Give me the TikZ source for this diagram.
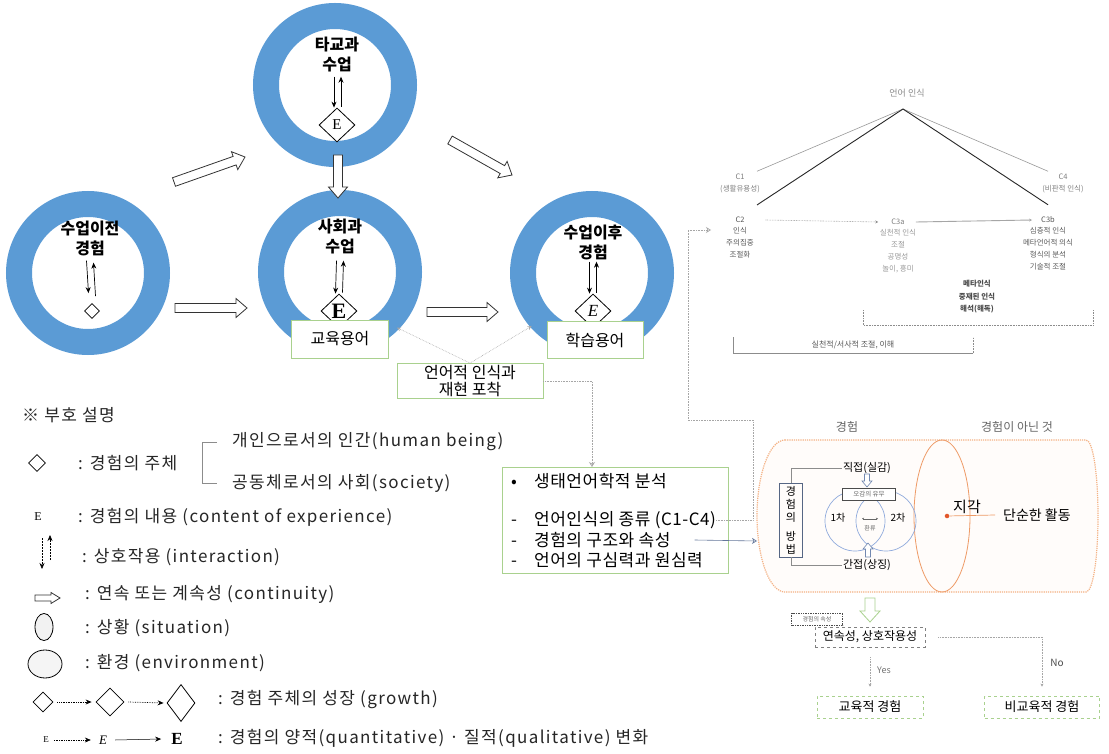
\documentclass[tikz,border=0pt]{standalone}
\usepackage{fontspec}
\setmainfont{Noto Sans CJK KR}
\newfontfamily\serifE{Liberation Serif}
\newfontfamily\legfont[LetterSpace=8]{Noto Sans CJK KR}
\newfontfamily\ecofont[LetterSpace=3]{Noto Sans CJK KR}
\usetikzlibrary{shapes.geometric,arrows.meta,calc}

\definecolor{ringblue}{HTML}{5B9BD5}
\definecolor{boxgreen}{HTML}{A9D18E}
\definecolor{canorange}{HTML}{F4B183}
\definecolor{ellorange}{HTML}{EE9A66}
\definecolor{venn}{HTML}{8FAADC}
\definecolor{dotred}{HTML}{E2572B}

% hollow block arrow between two named coordinates:
% #1 style, #2 half shaft width, #3 half head width, #4 head length, #5 from, #6 to
\newcommand\blockarrow[6]{%
  \coordinate (ba-h) at ($(#6)!#4!(#5)$);
  \draw[#1] ($(#5)!#2!90:(#6)$) -- ($(ba-h)!#2!-90:(#5)$) -- ($(ba-h)!#3!-90:(#5)$)
    -- (#6) -- ($(ba-h)!#3!90:(#5)$) -- ($(ba-h)!#2!90:(#5)$) -- ($(#5)!#2!-90:(#6)$) -- cycle;}

\begin{document}
\begin{tikzpicture}[x=1pt,y=-1pt,
  ring/.style={circle, draw=ringblue, line width=26pt, minimum size=138pt, inner sep=0pt},
  ringlabel/.style={font=\bfseries\fontsize{16}{20}\selectfont, align=center, inner sep=1pt},
  subject/.style={diamond, draw, line width=0.8pt, inner sep=0pt, minimum width=36pt, minimum height=34pt, fill=white},
  interact/.style={-{Stealth[length=6pt,width=5pt]}, line width=0.7pt},
  termbox/.style={draw=boxgreen, fill=white, line width=0.8pt, font=\fontsize{16}{17}\selectfont, align=center, inner sep=1pt},
  blockarr/.style={draw=black!80, fill=white, line width=0.8pt},
  linkline/.style={draw=black!35, line width=0.6pt, densely dotted},
  leg/.style={font=\legfont\fontsize{17}{19}\selectfont, anchor=west, inner sep=0pt, text=black!85},
  growarr/.style={densely dotted, line width=0.7pt, -{Stealth[length=6pt,width=5pt]}},
  ecotext/.style={font=\ecofont\fontsize{17}{19}\selectfont, anchor=west, inner sep=0pt},
  ctext/.style={font=\fontsize{7.5}{12}\selectfont, align=center, text=black!50, inner sep=1pt},
  chead/.style={font=\fontsize{7.5}{9}\selectfont, text=black!50, inner sep=1pt},
  bracketline/.style={draw=black!45, line width=0.6pt}
]
\fill[white] (0,0) rectangle (1109,754);
\useasboundingbox (0,0) rectangle (1109,754);

% ---------- environments (rings) ----------
\node[ring] (ringA) at (88,273) {};
\node[ring] (ringB) at (335,85) {};
\node[ring] (ringC) at (340,272) {};
\node[ring] (ringD) at (592,273) {};

\node[ringlabel] (labA) at (90,238) {수업이전\\경험};
\node[ringlabel] (labB) at (337,55) {타교과\\수업};
\node[ringlabel] (labC) at (340,237) {사회과\\수업};
\node[ringlabel] (labD) at (593,242) {수업이후\\경험};

% subjects of experience
\node[diamond, draw, line width=0.8pt, inner sep=0pt, minimum width=15pt, minimum height=15pt] (subjA) at (92,311) {};
\node[subject] (subjB) at (337,125) {\serifE\fontsize{15}{15}\selectfont E};
\node[subject] (subjC) at (339,311) {\serifE\bfseries\fontsize{22}{22}\selectfont E};
\node[subject] (subjD) at (593,311) {\serifE\itshape\fontsize{17}{17}\selectfont E};

% interaction arrows
\draw[interact] ($(labA.south)+(-3.5,4)$) -- ($(subjA.north)+(-3.5,-10)$);
\draw[interact] ($(subjA.north)+(3.5,-7)$) -- ($(labA.south)+(3.5,6)$);
\draw[interact] ($(labB.south)+(-3,3)$) -- ($(subjB.north)+(-3,0)$);
\draw[interact] ($(subjB.north)+(4,-1)$) -- ($(labB.south)+(4,3)$);
\draw[interact] ($(labC.south)+(-3.5,5)$) -- ($(subjC.north)+(-3.5,0)$);
\draw[interact] ($(subjC.north)+(3.5,-1)$) -- ($(labC.south)+(3.5,5)$);
\draw[interact] ($(labD.south)+(-3.5,1)$) -- ($(subjD.north)+(-3.5,0)$);
\draw[interact] ($(subjD.north)+(3.5,-1)$) -- ($(labD.south)+(3.5,1)$);

% continuity arrows between environments
\coordinate (ac-s) at (175,308); \coordinate (ac-e) at (247,308);
\coordinate (cd-s) at (427,312); \coordinate (cd-e) at (498,312);
\coordinate (bc-s) at (338,155); \coordinate (bc-e) at (338,198);
\coordinate (ab-s) at (174,182); \coordinate (ab-e) at (245,157);
\coordinate (bd-s) at (450,140); \coordinate (bd-e) at (512,175);
\blockarrow{blockarr}{4.5pt}{9.5pt}{11pt}{ac-s}{ac-e}
\blockarrow{blockarr}{4.5pt}{9.5pt}{11pt}{cd-s}{cd-e}
\blockarrow{blockarr}{4.5pt}{9.5pt}{11pt}{bc-s}{bc-e}
\blockarrow{blockarr}{4.5pt}{9.5pt}{11pt}{ab-s}{ab-e}
\blockarrow{blockarr}{4.5pt}{9.5pt}{11pt}{bd-s}{bd-e}

% term boxes
\node[termbox, minimum width=97pt, minimum height=38pt] (gyo) at (340,339) {교육용어};
\node[termbox, minimum width=96pt, minimum height=37pt] (hak) at (595,340) {학습용어};
\node[termbox, minimum width=146pt, minimum height=35pt] (eon) at (470,381) {언어적 인식과\\재현 포착};
\draw[linkline, -{Stealth[length=4pt,width=4pt,open]}] (eon.north) -- ([xshift=8pt,yshift=-8pt]gyo.north east);
\draw[linkline, -{Stealth[length=4pt,width=4pt,open]}] (eon.north) -- ([xshift=-15pt,yshift=-5pt]hak.north west);

% ---------- ecolinguistic analysis box ----------
\node[draw=boxgreen, line width=0.8pt, minimum width=226pt, minimum height=106pt, anchor=north west, inner sep=0pt] (eco) at (502,467) {};
\node[ecotext] (eco1) at (511,481) {\makebox[23pt][l]{•}생태언어학적 분석};
\node[ecotext] (eco2) at (511,520) {\makebox[23pt][l]{-}언어인식의 종류 (C1-C4)};
\node[ecotext] (eco3) at (511,540) {\makebox[23pt][l]{-}경험의 구조와 속성};
\node[ecotext] (eco4) at (511,560) {\makebox[23pt][l]{-}언어의 구심력과 원심력};
\draw[linkline, -{Stealth[length=5pt,width=6pt,open]}] (eon.east) -| ([xshift=90pt]eco.north west);

% ---------- language awareness types ----------
\coordinate (apex) at (903,109);
\node[font=\fontsize{9}{10}\selectfont, text=black!45] (lang) at (907,93) {언어 인식};
\node[ctext] (c1) at (740,183) {C1\\(생활유용성)};
\node[ctext] (c4) at (1063,183) {C4\\(비판적 인식)};
\node[chead, text=black!65] (c2h) at (740,220) {C2};
\node[ctext, text=black!65, anchor=north] (c2b) at (740,226) {인식\\주의집중\\조절화};
\node[chead] (c3ah) at (898,222) {C3a};
\node[ctext, text=black!40, anchor=north] (c3ab) at (898,228) {실천적 인식\\조절\\공명성\\놀이, 흥미};
\node[chead, text=black!65] (c3bh) at (1048,220) {C3b};
\node[ctext, text=black!65, anchor=north] (c3bb) at (1048,226) {심층적 인식\\메타언어적 의식\\형식의 분석\\기술적 조절};
\node[ctext, text=black!70, font=\bfseries\fontsize{7.5}{12.5}\selectfont] (meta) at (977,297) {메타인식\\중재된 인식\\해석(해독)};

\draw[draw=black!40, line width=0.6pt] (apex) -- ([xshift=17pt,yshift=1pt]c1.north);
\draw[draw=black!40, line width=0.6pt] (apex) -- ([xshift=-15pt,yshift=1pt]c4.north);
\draw[draw=black!85, line width=0.9pt] (apex) -- ([xshift=17pt,yshift=11pt]c2h.north);
\draw[draw=black!85, line width=0.9pt] (apex) -- ([yshift=11pt]c3bh.north);
\draw[draw=black!45, line width=0.6pt, densely dotted, -{Stealth[length=3pt,width=3pt]}] ([xshift=20pt]c2h.east) -- ([xshift=-12pt]c3ah.west);
\draw[draw=black!35, line width=0.9pt, -{Stealth[length=3pt,width=3pt]}] ([xshift=10pt]c3ah.east) -- ([xshift=-8pt]c3bh.west);

\draw[bracketline, densely dotted] (863,310) -- (863,325) -- (1093,325) -- (1093,310);
\node[font=\fontsize{8}{9}\selectfont, text=black!65] (narr) at (853,345) {실천적/서사적 조절, 이해};
\draw[bracketline] (733,337) -- (733,353) -- (973,353);
\draw[bracketline, densely dotted] (973,353) -- (973,337);

% link from the list of awareness types
\coordinate (c2in) at (711,230);
\draw[linkline, -{Stealth[length=5pt,width=6pt,open]}] (eco2.east) -| (753,420) -| (688,230) -- (c2in);

% ---------- structure of experience ----------
\draw[canorange, densely dotted, line width=1.2pt, fill=canorange!4]
  (785,440) -- (1086,440) .. controls (1093,440) and (1098,474) .. (1098,516)
  .. controls (1098,558) and (1093,592) .. (1086,592) -- (785,592)
  .. controls (769.5,592) and (757,558) .. (757,516)
  .. controls (757,474) and (769.5,440) .. (785,440) -- cycle;
\coordinate (canW) at (757,541);
\draw[draw=venn!70!black, line width=0.6pt, -{Stealth[length=5pt,width=6pt,open]}] ([xshift=24pt]eco3.east) -- (canW);

\node[font=\fontsize{12}{14}\selectfont, text=black!60] (expr) at (847,427) {경험};
\node[font=\fontsize{12}{14}\selectfont, text=black!60] (nonexpr) at (1017,427) {경험이 아닌 것};

\node[ellipse, draw=ellorange, line width=0.8pt, minimum width=56pt, minimum height=152pt, inner sep=0pt] (situ) at (942,516) {};
\node[font=\fontsize{15}{16}\selectfont] (perc) at (967,507) {지각};
\node[circle, fill=dotred, inner sep=1.6pt] (pdot) at (947,516) {};
\node[font=\fontsize{14}{16}\selectfont, anchor=west, inner sep=0pt] (act) at (1003,515) {단순한 활동};
\draw[ellorange, line width=0.7pt] ([xshift=-8pt]act.west) -- (pdot);

\node[draw=venn!60!black, line width=0.7pt, minimum width=23pt, minimum height=74pt, inner sep=0pt, font=\fontsize{11}{13}\selectfont, align=center] (method) at (791,520) {경\\험\\의\\[6pt]방\\법};
\node[font=\fontsize{11}{13}\selectfont, inner sep=1pt] (direct) at (867,468) {직접(실감)};
\node[font=\fontsize{11}{13}\selectfont, inner sep=1pt] (indirect) at (867,565) {간접(상징)};
\draw[bracketline] (method.north) |- (direct.west);
\draw[bracketline] (method.south) |- (indirect.west);

\node[circle, draw=venn, line width=0.7pt, minimum size=60pt, inner sep=0pt] (v1) at (855,521) {};
\node[circle, draw=venn, line width=0.7pt, minimum size=60pt, inner sep=0pt] (v2) at (886,521) {};
\node[draw=black!70, fill=white, line width=0.6pt, minimum width=53pt, minimum height=12pt, inner sep=0pt, font=\fontsize{6.5}{7}\selectfont, text=black!60] (senses) at (869,494) {오감의 유무};
\node[font=\fontsize{10}{12}\selectfont] (first) at (838,518) {1차};
\node[font=\fontsize{10}{12}\selectfont] (second) at (898,518) {2차};
\node[font=\fontsize{6}{7}\selectfont, text=black!60] (feedback) at (870,528) {환류};
\draw[draw=black!60, line width=0.4pt, {Stealth[length=2pt,width=2pt]}-{Stealth[length=2pt,width=2pt]}] ($(feedback.north)+(-8,-3)$) -- ($(feedback.north)+(8,-3)$);

\coordinate (da-s) at (867,474); \coordinate (da-e) at (867,487);
\coordinate (ia-s) at (868,557); \coordinate (ia-e) at (868,543);
\blockarrow{draw=venn!80!black, fill=white, line width=0.6pt}{2.5pt}{5pt}{6pt}{da-s}{da-e}
\blockarrow{draw=venn!80!black, fill=white, line width=0.6pt}{2.5pt}{5pt}{6pt}{ia-s}{ia-e}

% ---------- educational value of experience ----------
\coordinate (ga-s) at (870,598); \coordinate (ga-e) at (870,622);
\blockarrow{draw=boxgreen, fill=white, line width=0.8pt}{5pt}{10pt}{11pt}{ga-s}{ga-e}
\node[draw=black!70, densely dotted, line width=0.7pt, minimum width=51pt, minimum height=12pt, inner sep=0pt, font=\fontsize{6}{7}\selectfont, text=black!60] (attr) at (817,619) {경험의 속성};
\node[draw=black!50, dashed, line width=0.6pt, minimum width=110pt, minimum height=20pt, inner sep=0pt, font=\fontsize{12}{14}\selectfont] (cont) at (870,637) {연속성, 상호작용성};
\node[draw=boxgreen, dashed, line width=0.8pt, minimum width=106pt, minimum height=22pt, inner sep=0pt, font=\fontsize{13}{15}\selectfont] (edu) at (870,707) {교육적 경험};
\node[draw=boxgreen, dashed, line width=0.8pt, minimum width=115pt, minimum height=22pt, inner sep=0pt, font=\fontsize{13}{15}\selectfont] (noedu) at (1042,707) {비교육적 경험};
\draw[linkline, -{Stealth[length=3pt,width=3pt]}] ([yshift=-10pt]cont.south) -- ([yshift=9pt]edu.north);
\draw[linkline, -{Stealth[length=3pt,width=3pt]}] ([xshift=13pt]cont.east) -| ([yshift=9pt]noedu.north);
\node[font=\fontsize{9}{10}\selectfont, text=black!55] (yes) at (884,670) {Yes};
\node[font=\fontsize{10}{11}\selectfont, text=black!70] (no) at (1057,663) {No};

% ---------- legend ----------
\node[leg] (legtitle) at (22,415) {※ 부호 설명};
\node[diamond, draw, line width=0.8pt, minimum width=17pt, minimum height=17pt, inner sep=0pt] (legsubj) at (37,463) {};
\node[leg] (legsubjtx) at (78,463) {: 경험의 주체};
\node[leg] (human) at (232,442) {개인으로서의 인간(human being)};
\node[leg] (society) at (232,483) {공동체로서의 사회(society)};
\draw[bracketline] ([xshift=-15pt]human.west) -| ([xshift=-30pt]society.west) -- ([xshift=-15pt]society.west);

\node[font=\serifE\fontsize{12}{12}\selectfont, inner sep=0pt] (legE) at (38,517) {E};
\node[leg] (legEtx) at (78,517) {: 경험의 내용 (content of experience)};

\coordinate (li-a) at (42,538); \coordinate (li-b) at (42,569);
\coordinate (li-c) at (50,560); \coordinate (li-d) at (50,535);
\draw[interact, line width=0.6pt, dash pattern=on 2pt off 1pt] (li-a) -- (li-b);
\draw[interact, line width=0.6pt, dash pattern=on 2pt off 1pt] (li-c) -- (li-d);
\node[leg] (legint) at (82,557) {: 상호작용 (interaction)};

\coordinate (lc-s) at (35,598); \coordinate (lc-e) at (60,598);
\blockarrow{blockarr}{3pt}{5.5pt}{9pt}{lc-s}{lc-e}
\node[leg] (legcont) at (85,594) {: 연속 또는 계속성 (continuity)};

\node[ellipse, draw, line width=0.8pt, fill=black!5, minimum width=18pt, minimum height=27pt, inner sep=0pt] (legsit) at (44,627) {};
\node[leg] (legsittx) at (85,628) {: 상황 (situation)};
\node[ellipse, draw, line width=0.8pt, fill=black!4, minimum width=34pt, minimum height=28pt, inner sep=0pt] (legenv) at (45,664) {};
\node[leg] (legenvtx) at (85,663) {: 환경 (environment)};

\node[diamond, draw, line width=0.8pt, minimum width=20pt, minimum height=20pt, inner sep=0pt] (g1) at (43,702) {};
\node[diamond, draw, line width=0.8pt, minimum width=28pt, minimum height=28pt, inner sep=0pt] (g2) at (110,702) {};
\node[diamond, draw, line width=0.8pt, minimum width=28pt, minimum height=37pt, inner sep=0pt] (g3) at (181,703) {};
\draw[growarr] ([xshift=4pt]g1.east) -- ([xshift=-4pt]g2.west);
\draw[growarr] ([xshift=4pt]g2.east) -- ([xshift=-3pt]g3.west);
\node[leg] (leggrow) at (218,700) {: 경험 주체의 성장 (growth)};

\node[font=\serifE\fontsize{9}{9}\selectfont, inner sep=0pt] (e1) at (46,740) {E};
\node[font=\serifE\itshape\fontsize{13}{13}\selectfont, inner sep=0pt] (e2) at (103,740) {E};
\node[font=\serifE\bfseries\fontsize{17}{17}\selectfont, inner sep=0pt] (e3) at (177,739) {E};
\draw[growarr] ([xshift=5pt]e1.east) -- ([xshift=-8pt]e2.west);
\draw[growarr, solid, line width=0.5pt] ([xshift=8pt]e2.east) -- ([xshift=-10pt]e3.west);
\node[leg] (legqual) at (218,738) {: 경험의 양적(quantitative) · 질적(qualitative) 변화};
\end{tikzpicture}
\end{document}
